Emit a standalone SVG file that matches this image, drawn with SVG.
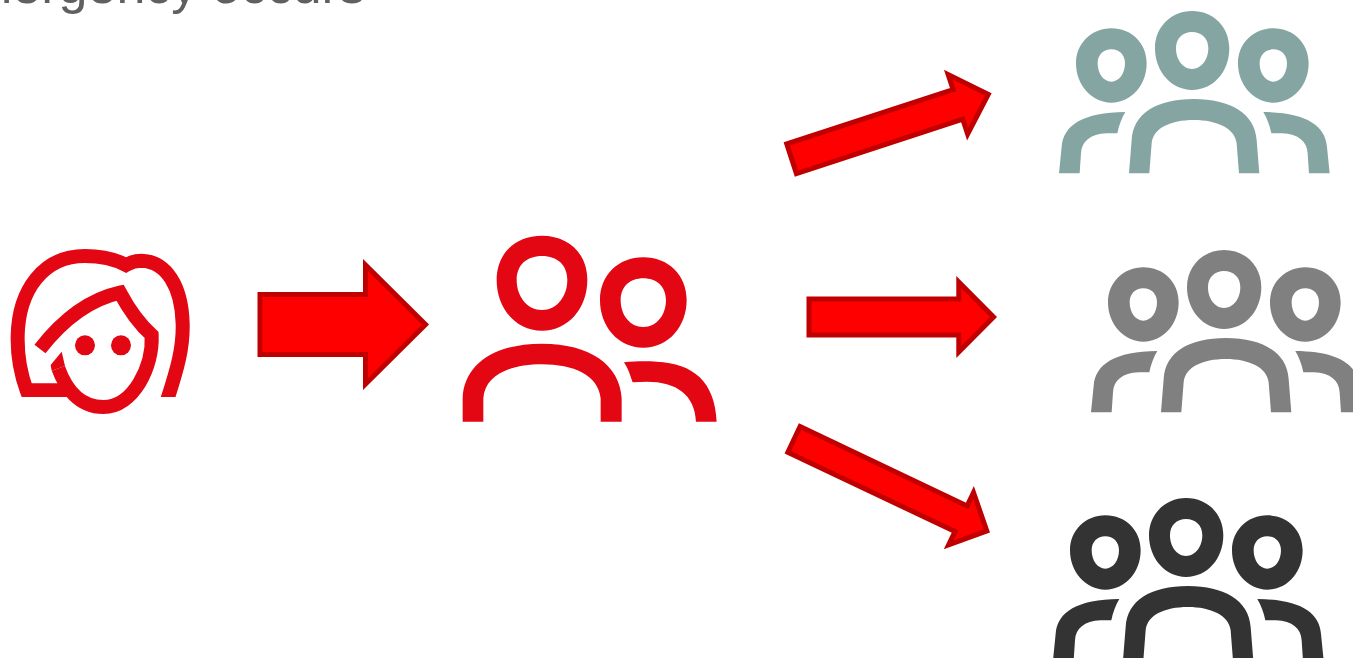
<svg xmlns="http://www.w3.org/2000/svg" width="1353" height="658" viewBox="0 0 1353 658">
<style>
.arrow{fill:#ff0000;stroke:#c00000;stroke-width:5;stroke-miterlimit:10}
.title{font-family:"Liberation Sans",Arial,sans-serif;font-size:52px;fill:#606060}
.line{fill:none;stroke:#e30613;stroke-width:42;stroke-miterlimit:10}
</style>
<defs>
<clipPath id="hairclip"><rect x="0" y="0" width="700" height="531"/></clipPath>
<g id="three">
<path fill-rule="evenodd" d="M184 85C245 85 290 130 290 190C290 255 245 308 184 308C125 308 78 255 78 190C78 130 125 85 184 85ZM184 148C160 148 143 165 143 190C143 220 160 245 184 245C208 245 225 220 225 190C225 165 208 148 184 148Z"/>
<path fill-rule="evenodd" d="M426 33C490 33 538 80 538 145C538 215 490 270 426 270C365 270 315 215 315 145C315 80 365 33 426 33ZM426 96C398 96 378 115 378 145C378 178 398 207 426 207C455 207 475 178 475 145C475 115 455 96 426 96Z"/>
<path fill-rule="evenodd" d="M670 85C731 85 776 130 776 190C776 255 731 308 670 308C611 308 564 255 564 190C564 130 611 85 670 85ZM670 148C646 148 629 165 629 190C629 220 646 245 670 245C694 245 711 220 711 190C711 165 694 148 670 148Z"/>
<path d="M237 520L245 420C250 340 320 297 432 297C540 297 615 340 620 420L628 520L567 520L560 430C555 385 500 360 432 360C360 360 310 385 305 430L298 520Z"/>
<path d="M27 520L35 440C40 375 100 337 226 336C215 355 207 375 202 400L170 400C120 402 95 425 93 460L89 520Z"/>
<path d="M839 520L831 440C826 375 766 337 640 336C651 355 659 375 664 400L696 400C746 402 771 425 773 460L777 520Z"/>
</g>
</defs>
<text class="title" x="-31" y="2.5">mergency occurs</text>
<g id="woman" transform="translate(0,220) scale(.3333)">
<path class="line" clip-path="url(#hairclip)" d="M495 560C535 440 550 380 548 310C545 200 500 125 425 122C410 122 395 125 378 135C340 115 300 108 255 108C130 108 55 210 53 350C52 410 65 470 80 511L205 511"/>
<path class="line" d="M120 387C180 310 260 240 360 218C385 265 415 310 455 345C460 440 400 561 310 561C235 561 195 500 175 445"/>
<polygon fill="#e30613" points="155,452 152,435 185,395 195,438"/>
<circle cx="255" cy="376" r="30" fill="#e30613"/>
<circle cx="363" cy="376" r="30" fill="#e30613"/>
</g>
<g id="two" transform="translate(450,225) scale(.3333)" fill="#e30613">
<path fill-rule="evenodd" d="M276 32C355 32 412 85 412 165C412 250 355 317 276 317C197 317 140 250 140 165C140 85 197 32 276 32ZM276 93C230 93 200 120 200 165C200 215 232 255 276 255C320 255 352 215 352 165C352 120 322 93 276 93Z"/>
<path fill-rule="evenodd" d="M580 97C655 97 710 150 710 225C710 305 655 368 580 368C505 368 450 305 450 225C450 150 505 97 580 97ZM580 160C540 160 512 185 512 225C512 270 540 306 580 306C620 306 648 270 648 225C648 185 620 160 580 160Z"/>
<path d="M38 590L38 520C42 420 130 356 276 356C420 356 510 420 515 520L515 590L452 590L452 520C445 450 370 418 276 418C180 418 105 450 100 520L100 590Z"/>
<path d="M522 412C560 408 590 408 620 410C730 415 795 470 800 590L738 590C735 510 680 470 590 470L548 472C540 450 535 430 522 412Z"/>
</g>
<g id="team-teal" fill="#85a5a3"><use href="#three" transform="translate(1050,0) scale(.3333)"/></g>
<g id="team-grey" fill="#808080"><use href="#three" transform="translate(1082,239) scale(.3333)"/></g>
<g id="team-dark" fill="#333333"><use href="#three" transform="translate(1044,487) scale(.3333)"/></g>
<g id="connectors">
<polygon class="arrow" points="260,294.5 365.5,294.5 365.5,265 425.5,324.5 365.5,384 365.5,354.5 260,354.5"/>
<polygon class="arrow" transform="translate(789.2,159.5) rotate(-18.1)" points="2.5,-15.6 177.5,-15.6 177.5,-31.3 209.4,0 177.5,31.3 177.5,15.6 2.5,15.6"/>
<polygon class="arrow" points="809,299 958.8,299 958.8,282 993.5,317 958.8,352 958.8,335 809,335"/>
<polygon class="arrow" transform="translate(791.7,438.3) rotate(25.4)" points="2.5,-14.2 187.5,-14.2 187.5,-29 216,0 187.5,29 187.5,14.2 2.5,14.2"/>
</g>
</svg>
